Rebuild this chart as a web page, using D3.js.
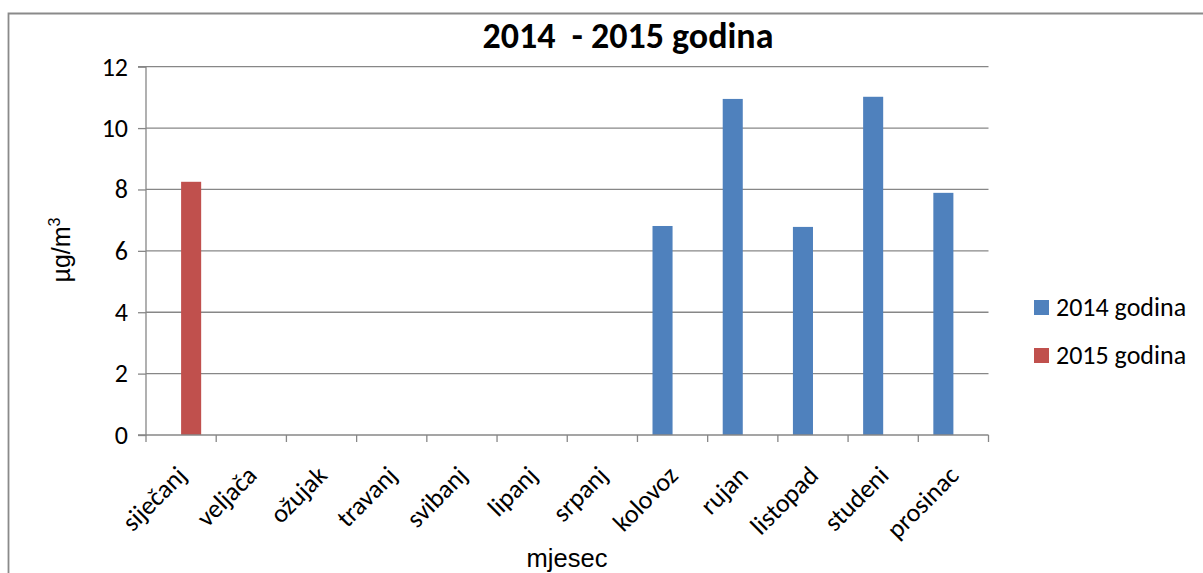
<!DOCTYPE html>
<html>
<head>
<meta charset="utf-8">
<script src="https://cdn.jsdelivr.net/npm/d3@7"></script>
<style>
  html, body { margin: 0; padding: 0; background: #fff; }
  svg { display: block; }
</style>
</head>
<body>
<svg id="chart" width="1203" height="573"></svg>
<script>
// Monthly concentrations, µg/m³
const months = ["siječanj", "veljača", "ožujak", "travanj", "svibanj", "lipanj",
                "srpanj", "kolovoz", "rujan", "listopad", "studeni", "prosinac"];
const seriesNames = ["2014 godina", "2015 godina"];
const values2014 = [null, null, null, null, null, null, null, 6.81, 10.95, 6.78, 11.02, 7.89];
const values2015 = [8.25, null, null, null, null, null, null, null, null, null, null, null];
const yTicks = [0, 2, 4, 6, 8, 10, 12];
const colors = ["#4F81BD", "#C0504D"];

const svg = d3.select("#chart");
const W = 1203, H = 573;
const plot = { left: 146, right: 988.5, top: 66.7, bottom: 435 };
const calibri = "Carlito, Calibri, Lato, sans-serif";
const arial = "'Liberation Sans', Arial, sans-serif";

// chart frame
svg.append("path")
  .attr("d", `M8.5,${H + 5} V13.5 H${W + 5}`)
  .attr("fill", "none").attr("stroke", "#8a8a8a").attr("stroke-width", 1.8);

const x = d3.scaleBand().domain(months).range([plot.left, plot.right]).paddingInner(0).paddingOuter(0);
const xs = d3.scaleBand().domain(seriesNames).range([0, x.bandwidth()]).paddingInner(0).paddingOuter(0.75);
const y = d3.scaleLinear().domain([0, 12]).range([plot.bottom, plot.top]);

// horizontal gridlines
svg.append("g").selectAll("line").data(yTicks.filter(t => t > 0)).join("line")
  .attr("x1", plot.left).attr("x2", plot.right)
  .attr("y1", d => y(d)).attr("y2", d => y(d))
  .attr("stroke", "#878787").attr("stroke-width", 1.3);

// y axis
const yAxis = svg.append("g").attr("transform", `translate(${plot.left},0)`)
  .call(d3.axisLeft(y).tickValues(yTicks).tickSize(8).tickPadding(10).tickFormat(d3.format("d")));
yAxis.select(".domain").attr("stroke", "#878787").attr("stroke-width", 1.3).attr("d", `M-8,${plot.top}H0V${plot.bottom}H-8`);
yAxis.selectAll(".tick line").attr("stroke", "#878787").attr("stroke-width", 1.3);
yAxis.selectAll(".tick text").attr("font-family", calibri).attr("font-size", 26).attr("fill", "#000");

// bars
const seriesData = [values2014, values2015];
seriesData.forEach((vals, si) => {
  svg.append("g").selectAll("rect")
    .data(months.map((m, i) => ({ m, v: vals[i] })).filter(d => d.v != null))
    .join("rect")
    .attr("x", d => x(d.m) + xs(seriesNames[si]))
    .attr("width", xs.bandwidth())
    .attr("y", d => y(d.v))
    .attr("height", d => y(0) - y(d.v))
    .attr("fill", colors[si]);
});

// x axis with ticks on category boundaries
const xAxisG = svg.append("g").attr("transform", `translate(0,${plot.bottom})`);
xAxisG.append("line").attr("x1", plot.left).attr("x2", plot.right)
  .attr("stroke", "#878787").attr("stroke-width", 1.3);
const bounds = months.map(m => x(m)).concat([plot.right]);
xAxisG.selectAll("line.tk").data(bounds).join("line").attr("class", "tk")
  .attr("x1", d => d).attr("x2", d => d).attr("y1", 0).attr("y2", 7)
  .attr("stroke", "#878787").attr("stroke-width", 1.3);
xAxisG.selectAll("text").data(months).join("text")
  .attr("transform", d => `translate(${x(d) + x.bandwidth() / 2 + 7},42) rotate(-45)`)
  .attr("text-anchor", "end")
  .attr("font-family", calibri).attr("font-size", 26).attr("fill", "#000")
  .text(d => d);

// title
svg.append("text").attr("x", 628).attr("y", 48).attr("text-anchor", "middle")
  .attr("font-family", calibri).attr("font-weight", "bold").attr("font-size", 36)
  .attr("fill", "#000").attr("xml:space", "preserve")
  .text("2014  - 2015 godina");

// axis titles
const yt = svg.append("text").attr("transform", "translate(70,250) rotate(-90)")
  .attr("text-anchor", "middle").attr("font-family", arial).attr("font-size", 25).attr("fill", "#000");
yt.append("tspan").text("µg/m");
yt.append("tspan").attr("dy", -10).attr("font-size", 16).text("3");

svg.append("text").attr("x", 567).attr("y", 567).attr("text-anchor", "middle")
  .attr("font-family", arial).attr("font-size", 25.5).attr("fill", "#000").text("mjesec");

// legend
const legend = svg.append("g").selectAll("g").data(seriesNames).join("g")
  .attr("transform", (d, i) => `translate(1034,${300 + i * 48})`);
legend.append("rect").attr("width", 15).attr("height", 15).attr("fill", (d, i) => colors[i]);
legend.append("text").attr("x", 22).attr("y", 15.5)
  .attr("font-family", calibri).attr("font-size", 26).attr("fill", "#000").text(d => d);
</script>
</body>
</html>
